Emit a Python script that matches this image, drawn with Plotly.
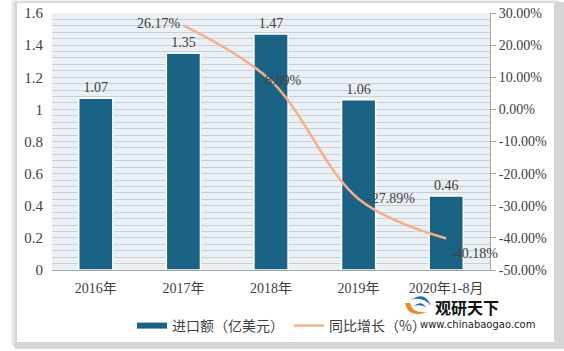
import plotly.graph_objects as go

categories = ["2016年", "2017年", "2018年", "2019年", "2020年1-8月"]
import_values = [1.07, 1.35, 1.47, 1.06, 0.46]
growth_cats = ["2017年", "2018年", "2019年", "2020年1-8月"]
growth_values = [26.17, 8.89, -27.89, -40.18]
left_ticks = [0, 0.2, 0.4, 0.6, 0.8, 1.0, 1.2, 1.4, 1.6]
left_labels = ["0", "0.2", "0.4", "0.6", "0.8", "1", "1.2", "1.4", "1.6"]
right_ticks = [-50, -40, -30, -20, -10, 0, 10, 20, 30]
right_labels = ["-50.00%", "-40.00%", "-30.00%", "-20.00%", "-10.00%", "0.00%", "10.00%", "20.00%", "30.00%"]

W, H = 564, 351
L, R, T, B = 52, 74, 13, 81
PW, PH = W - L - R, H - T - B

def px(x):
    return (x - L) / PW

def py(y):
    return (H - B - y) / PH

FONT = "Liberation Serif, Noto Sans CJK SC, serif"
TXT = "#404040"
BAR = "#1B6384"
LINE = "#F5B08A"

fig = go.Figure()
fig.add_trace(go.Bar(
    x=categories, y=import_values, name="进口额（亿美元）", showlegend=False,
    marker=dict(color=BAR, line=dict(color="white", width=1.5)),
    width=0.39,
    text=[f"{v:.2f}" for v in import_values], textposition="outside",
    textfont=dict(family=FONT, size=14, color=TXT), cliponaxis=False,
))
# legend proxy for the bar series (thick line icon like the reference)
fig.add_trace(go.Scatter(
    x=[None], y=[None], name="进口额（亿美元）", mode="lines",
    line=dict(color=BAR, width=6), showlegend=True,
))
fig.add_trace(go.Scatter(
    x=growth_cats, y=growth_values, name="同比增长（%）", yaxis="y2",
    mode="lines", line=dict(color=LINE, width=2.5, shape="spline", smoothing=1.0),
))

# line labels
label_cfg = [("middle", "right", 0, 2), ("middle", "center", 12, 0), ("middle", "left", 6, 0), ("top", "left", 2, -6)]
for c, v, (ya, xa, xs, ys) in zip(growth_cats, growth_values, label_cfg):
    fig.add_annotation(x=c, y=v, yref="y2", xref="x", text=f"{v:.2f}%", showarrow=False,
                       xanchor=xa, yanchor=ya, xshift=xs, yshift=ys,
                       font=dict(family=FONT, size=14, color=TXT))

shapes = []
# shadow / card
for i, col in enumerate(["#EFEFEF", "#E2E2E2", "#D6D6D6"]):
    shapes.append(dict(type="rect", xref="paper", yref="paper", layer="below",
                       x0=px(11 + i * 2), x1=px(564 - (2 - i) * 3), y0=py(349 - (2 - i) * 2), y1=py(0 + i),
                       line=dict(width=0), fillcolor=col))
shapes.append(dict(type="rect", xref="paper", yref="paper", layer="below",
                   x0=px(17), x1=px(554), y0=py(342), y1=py(3),
                   line=dict(width=0), fillcolor="white"))
shapes.append(dict(type="rect", xref="paper", yref="paper", layer="below",
                   x0=0, x1=1, y0=0, y1=1, line=dict(width=0), fillcolor="#EAF1F6"))

def pth(pts):
    s = ""
    for cmd, coords in pts:
        s += cmd + " " + " ".join(f"{px(a):.4f},{py(b):.4f}" for a, b in coords) + " "
    return s + "Z"

# logo icon (approximate swirl)
shapes.append(dict(type="path", xref="paper", yref="paper", layer="above",
                   path=pth([("M", [(405, 303)]), ("Q", [(408, 319), (428, 312)]), ("Q", [(412, 314), (410, 303)])]),
                   fillcolor="#EE8A1E", line=dict(width=0)))
shapes.append(dict(type="path", xref="paper", yref="paper", layer="above",
                   path=pth([("M", [(411, 300)]), ("Q", [(425, 290), (431, 306)]), ("Q", [(423, 296), (411, 300)])]),
                   fillcolor="#1A6FB0", line=dict(width=0)))
shapes.append(dict(type="path", xref="paper", yref="paper", layer="above",
                   path=pth([("M", [(414, 306)]), ("Q", [(421, 300), (426, 307)]), ("Q", [(420, 304), (414, 306)])]),
                   fillcolor="#1A6FB0", line=dict(width=0)))
fig.update_layout(shapes=shapes)

fig.add_annotation(xref="paper", yref="paper", x=px(433), y=py(307), text="<b>观研天下</b>",
                   showarrow=False, xanchor="left", yanchor="middle",
                   font=dict(family="Noto Sans CJK SC", size=16, color="#111111"))
fig.add_annotation(xref="paper", yref="paper", x=px(418), y=py(324), text="www.chinabaogao.com",
                   showarrow=False, xanchor="left", yanchor="middle",
                   font=dict(family="DejaVu Sans", size=10, color="#222222"))

fig.update_layout(
    width=W, height=H, margin=dict(l=L, r=R, t=T, b=B, pad=0, autoexpand=False),
    paper_bgcolor="white", plot_bgcolor="rgba(0,0,0,0)",
    font=dict(family=FONT, size=13, color=TXT),
    xaxis=dict(type="category", range=[-0.5, 4.5], showline=True, linecolor="#A6A6A6", linewidth=1,
               ticks="", showgrid=False, automargin=False,
               tickfont=dict(family=FONT, size=14, color=TXT), ticklabelstandoff=5),
    yaxis=dict(range=[0, 1.6], tickvals=left_ticks, ticktext=left_labels, showgrid=True, automargin=False,
               gridcolor="#C9CED4", gridwidth=1, zeroline=False, showline=False, ticks="",
               tickfont=dict(family=FONT, size=15, color=TXT), ticklabelstandoff=8,
               minor=dict(dtick=0.04, tick0=0, showgrid=True, gridcolor="#C9CED4", gridwidth=1)),
    yaxis2=dict(range=[-50, 30], overlaying="y", side="right", tickvals=right_ticks, ticktext=right_labels,
                showgrid=False, zeroline=False, showline=True, linecolor="#A6A6A6", linewidth=1,
                ticks="outside", ticklen=5, tickcolor="#A6A6A6", automargin=False,
                tickfont=dict(family=FONT, size=14, color=TXT)),
    legend=dict(orientation="h", x=px(132), xanchor="left", y=py(326), yanchor="middle",
                font=dict(family="Noto Sans CJK SC", size=14, color=TXT), bgcolor="rgba(0,0,0,0)",
                itemwidth=30, tracegroupgap=0),
    showlegend=True,
)

fig.write_html("out.html")
